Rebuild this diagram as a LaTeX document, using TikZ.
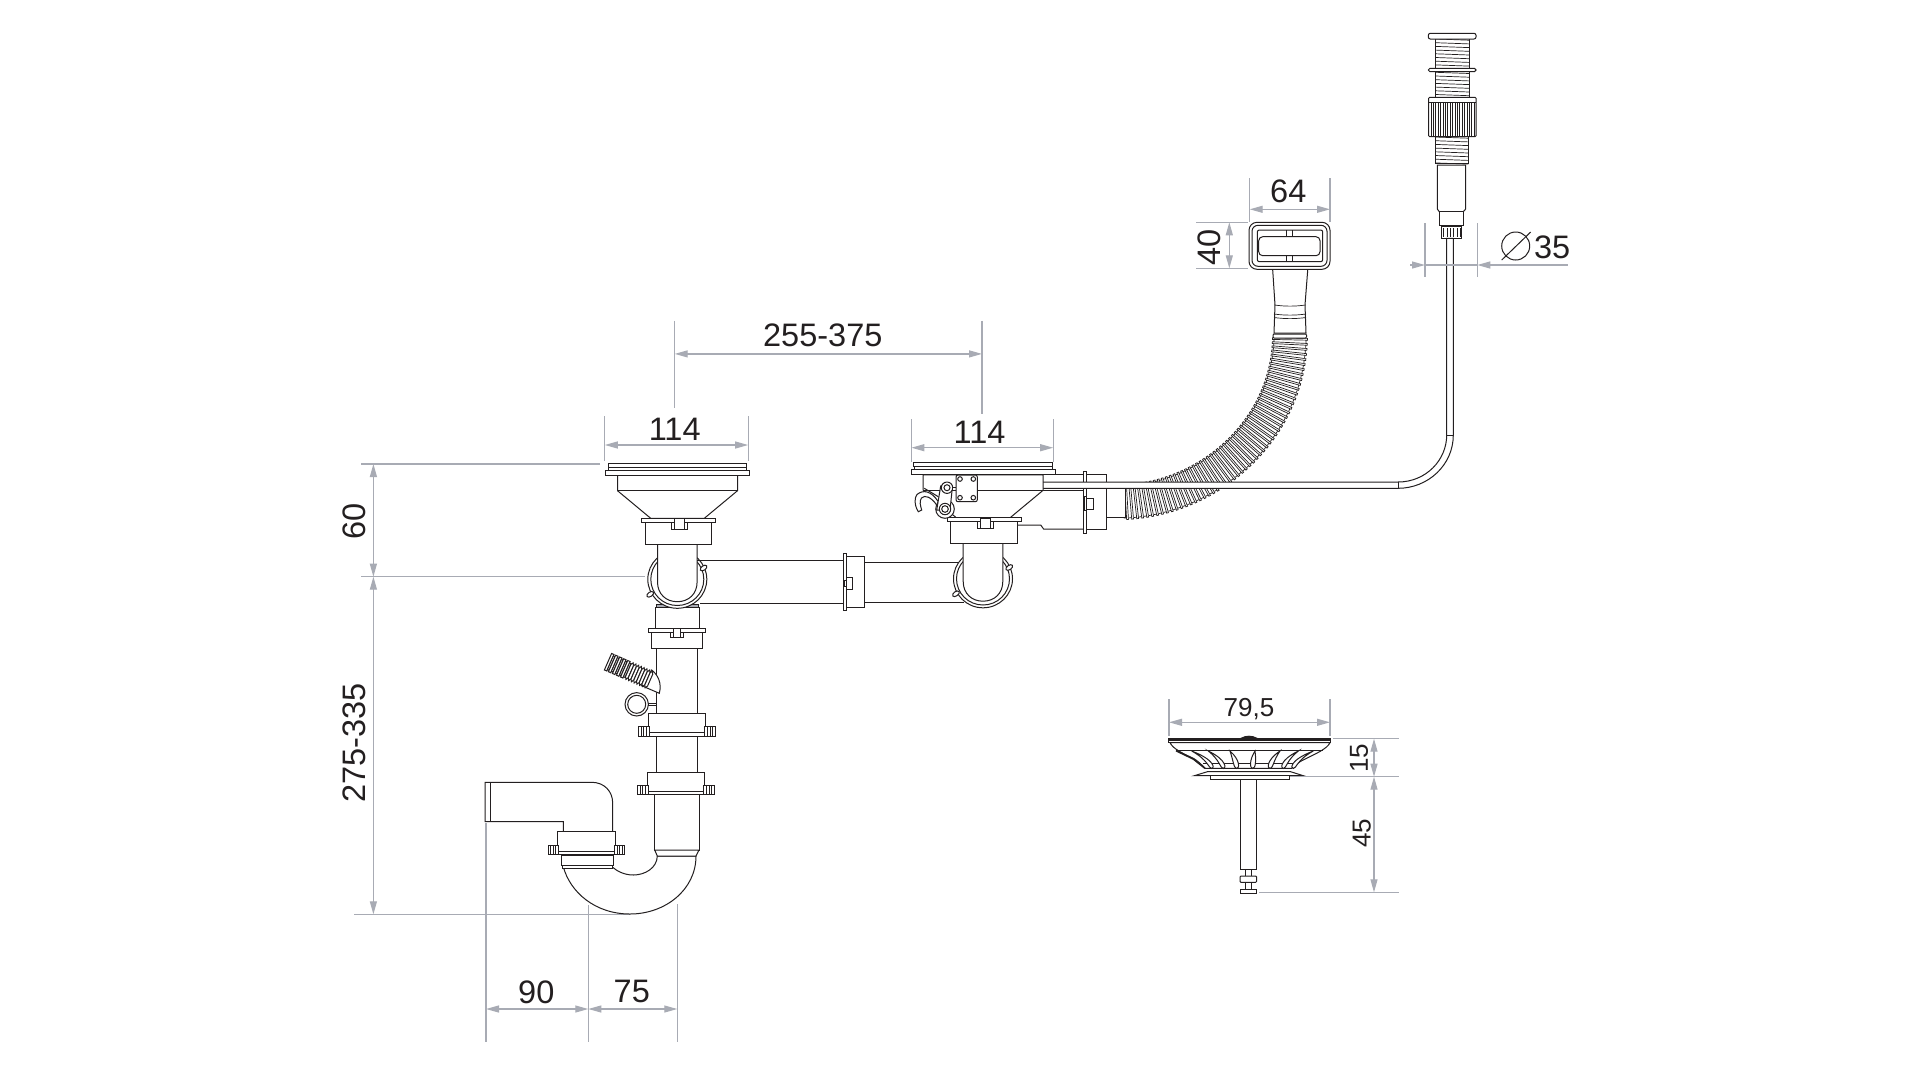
\documentclass[tikz,border=0pt]{standalone}
\usepackage{fontspec}
\setmainfont{Liberation Sans}
\newcommand*{\bigdim}{\fontsize{32.5}{33}\selectfont}
\newcommand*{\smalldim}{\fontsize{26}{26}\selectfont}
\definecolor{dimgrey}{RGB}{168,171,180}
\definecolor{ink}{RGB}{35,31,32}
\usetikzlibrary{arrows.meta}
\usetikzlibrary{decorations.markings}
\tikzstyle{base}=[x=1pt, y=-1pt, inner sep=0pt, outer sep=0pt]
\tikzstyle{part}=[ink, line width=1pt, fill=white]
\tikzstyle{thin}=[ink, line width=0.7pt]
\tikzstyle{ext}=[dimgrey, line width=1.2pt]
\tikzstyle{dim}=[dimgrey, line width=1.2pt, {Triangle[length=13pt,width=7pt]}-{Triangle[length=13pt,width=7pt]}]
\tikzstyle{lead}=[dimgrey, line width=1.2pt, -{Triangle[length=13pt,width=7pt]}]
\tikzstyle{label}=[ink, font=\bigdim]
\tikzstyle{small}=[ink, font=\smalldim]
\tikzstyle{ribbed}=[decoration={markings, mark=between positions 0 and 1 step 4.6pt with {
    \draw [thin] (0,-16) -- (0,-17.5) -- (1.8,-17.5) -- (1.8,-16) -- (4.6,-16);
    \draw [thin] (0,16) -- (0,17.5) -- (1.8,17.5) -- (1.8,16) -- (4.6,16);
    \draw [thin] (0,-16) -- (0,16);
    \draw [thin] (1.8,-16) -- (1.8,16);
}}, postaction={decorate}]
\begin{document}
\begin{tikzpicture}[base]
    \path [use as bounding box, fill=white] (0,0) rectangle (1920,1080);

    % flexible hose
    \draw [white, line width=33pt, ribbed] (1290,338) .. controls (1288,430) and (1210,498) .. (1125.7,502);

    % overflow head
    \draw [part, rounded corners=8pt] (1249,222.3) rectangle (1330,269.3);
    \draw [part, rounded corners=6pt] (1252,225.3) rectangle (1327,266.3);
    \draw [part, rounded corners=2pt] (1257.3,230) rectangle (1322.7,261.7);
    \draw [part, rounded corners=4pt] (1258.7,236.7) rectangle (1320,255.7);
    \draw [thin] (1286.5,230) -- (1286.5,236.7) (1292.5,230) -- (1292.5,236.7);
    \draw [thin] (1286.5,255.7) -- (1286.5,261.7) (1292.5,255.7) -- (1292.5,261.7);
    \draw [part] (1272.7,270) -- (1275,305) -- (1274,333) -- (1306,333) -- (1305,305) -- (1307.7,270);
    \draw [thin] (1274.5,305) .. controls (1285,306.5) and (1295,306.5) .. (1305.5,305);
    \draw [thin] (1274,314) .. controls (1285,315.5) and (1295,315.5) .. (1306,314);
    \draw [thin] (1274,317.5) .. controls (1285,319) and (1295,319) .. (1306,317.5);
    \draw [part, rounded corners=1pt] (1273,334) rectangle (1306.5,338);

    % top button
    \foreach \ty in {39,42.7,...,98} {
        \draw [thin] (1435.7,\ty) -- (1469,\ty+1.2);
    }
    \draw [ink, line width=1pt] (1435.7,39) -- (1435.7,98) (1469,39) -- (1469,98);
    \draw [part, rounded corners=2pt] (1428.3,33.3) rectangle (1476,39);
    \draw [part, rounded corners=1.6pt] (1428.3,68.3) rectangle (1476,71.7);
    \foreach \ty in {137,140.7,...,163} {
        \draw [thin] (1435,\ty) -- (1468.3,\ty+1.2);
    }
    \draw [ink, line width=1pt] (1435,136.7) -- (1435,163.3) -- (1468.3,163.3) -- (1468.3,136.7);
    \draw [part, rounded corners=1pt] (1428.7,97.3) rectangle (1476,136.7);
    \draw [ink, line width=1pt] (1428.7,102.3) -- (1476,102.3);
    \foreach \kx in {1431,1433.4,...,1475} {
        \draw [thin] (\kx,102.3) -- (\kx,136.7);
    }
    \draw [part] (1437.3,165) -- (1437.3,209) -- (1439.3,211.7) -- (1463.3,211.7) -- (1465.7,209) -- (1465.7,165) -- cycle;
    \draw [part] (1439.3,211.7) rectangle (1463.3,225.7);
    \draw [part] (1441,226.7) rectangle (1461.7,238.3);
    \foreach \sx in {1443.7,1447,1450.7,1453.7,1457.3,1460} {
        \draw [thin] (\sx,228) -- (\sx,237);
    }

    % rear housing
    \draw [part] (1106.7,488) rectangle (1125.7,517.7);
    \draw [part] (1041.8,474.3) rectangle (1083.6,490);
    \draw [part] (1017.5,525) -- (1040.7,525) -- (1043.6,529) -- (1083.6,529);
    \draw [part] (1086.8,474.3) rectangle (1106.8,529.3);
    \draw [part] (1083.6,471.7) rectangle (1086.8,533.3);
    \draw [part] (1086.8,498) rectangle (1093.2,509);
    \draw [part] (1084.6,496.7) rectangle (1086.8,510);

    % pull rod
    \draw [part] (977,482) -- (1398,482) .. controls (1426,482) and (1446.7,460) .. (1446.7,435) -- (1446.7,238.3) -- (1453.3,238.3) -- (1453.3,435) .. controls (1453.3,465) and (1428,488.3) .. (1398,488.3) -- (977,488.3);
    \draw [part] (1398,482) -- (1398,488.3);
    \draw [part] (1446.7,435) -- (1453.3,435);

    % section below the left ring
    \draw [part] (655,607.3) rectangle (699.6,629.3);
    \draw [ink, line width=1pt, fill=dimgrey] (656.5,604.5) rectangle (698,607.3);

    % both strainers
    \foreach \sx/\sy in {0/0,305.7/-0.5} {
        \begin{scope}[shift={(\sx,\sy)}]
            \draw [part] (617.5,475.3) -- (617.5,490.7) -- (650.7,518.3) -- (704.3,518.3) -- (737.5,490.7) -- (737.5,475.3) -- cycle;
            \draw [part] (617.5,490.7) -- (737.5,490.7);
            \draw [part] (605.4,470) rectangle (749.6,475.3);
            \draw [part] (608.2,463.3) rectangle (746.8,467);
            \draw [thin] (608.2,467) -- (608.2,470) (746.8,467) -- (746.8,470);
            \draw [part] (677.3,579.3) circle [x radius=29.5, y radius=29];
            \draw [part] (677.3,579.3) circle [x radius=26.5, y radius=26.2];
            \draw [part, rotate around={35:(703.6,568)}] (703.6,568) circle [x radius=3.8, y radius=2.2];
            \draw [part, rotate around={35:(650.2,594.3)}] (650.2,594.3) circle [x radius=3.8, y radius=2.2];
            \draw [part] (657.5,544) -- (657.5,582) .. controls (657.5,594) and (666,601.7) .. (677.3,601.7) .. controls (688.6,601.7) and (697.1,594) .. (697.1,582) -- (697.1,544);
            \draw [part] (645,522) rectangle (711.8,544);
            \draw [part] (641.4,518.3) rectangle (715.7,522);
            \draw [part] (671.4,522) rectangle (687.9,529);
            \draw [part] (674.5,518.7) rectangle (684.8,529);
        \end{scope}
    }

    % cross pipe
    \draw [part] (697.1,560.3) -- (843.2,560.3);
    \draw [part] (700,603.7) -- (843.2,603.7);
    \draw [part] (864.3,562) -- (959.3,562);
    \draw [part] (864.3,602) -- (964,602);
    \draw [part] (846.8,556.3) rectangle (864.3,607.7);
    \draw [part] (843.2,553.3) rectangle (846.8,610.7);
    \draw [part] (846.8,577) rectangle (852.1,589);
    \draw [part] (844.3,580) rectangle (846.8,586);

    % lever on the right strainer
    \draw [part] (924.3,488.3) -- (938.3,496.7);
    \draw [part] (918.3,511.7) .. controls (914,505) and (914.5,497) .. (917,494.5) .. controls (923,489.5) and (931,490.5) .. (938.3,501.7) -- (936.7,505) .. controls (931,497) and (925,494.5) .. (921.5,498) .. controls (919,501) and (920.5,506) .. (921.7,510) -- cycle;
    \draw [part] (945,509) circle (9.3);
    \draw [part] (940.7,486) -- (936.7,510) -- (950,510) -- (952.3,488) -- cycle;
    \draw [part] (947,487.7) circle (5.7);
    \draw [part] (947,487.7) circle (3);
    \draw [part] (945,509) circle (5.7);
    \draw [part] (945,509) circle (3.3);
    \draw [part] (952.5,487) rectangle (956,490);
    \draw [part, rounded corners=2pt] (956,475) rectangle (977.3,501.7);
    \foreach \bx/\by in {960/479,973.3/479,960/497.7,973.3/497.7} {
        \draw [part] (\bx,\by) circle (2.3);
    }

    % tail pipe and clamps
    \draw [part] (656.7,648.7) rectangle (697.3,772.3);
    \draw [part] (651.7,632) rectangle (702.7,648.7);
    \draw [part] (648.3,628.3) rectangle (705.7,632);
    \draw [part] (670.7,632) rectangle (683.3,637);
    \draw [part] (673.5,628) rectangle (680.5,637);
    \draw [part] (654.7,794.7) -- (654.7,850) -- (699,850) -- (699,794.7);

    % side spout
    \draw [part] (651.7,670) .. controls (658,675) and (662,683) .. (659.3,693.3) -- (641.7,685.7) -- cycle;
    \begin{scope}[shift={(608,661.7)}, rotate=-23.6]
        \foreach \rx in {0,4.4,8.8,13.2,17.6} {
            \draw [part] (\rx,-9) rectangle (\rx+2.6,9);
            \draw [part] (\rx+2.6,-7.5) rectangle (\rx+4.4,7.5);
        }
        \foreach \rx in {22,25,...,43} {
            \draw [part] (\rx,-6.5) -- (\rx,6.5) -- (\rx+1.5,9) -- (\rx+3,6.5) -- (\rx+3,-6.5) -- (\rx+1.5,-9) -- cycle;
        }
    \end{scope}
    \draw [part] (636.7,704.3) circle (11.7);
    \draw [part] (636.7,704.3) circle (9);
    \draw [part] (648.3,703.3) rectangle (656.7,705.7);

    % dimension lines behind the trap
    \draw [ext] (630,914.3) -- (353.8,914.3);
    \draw [ext] (588.3,905) -- (588.3,1042);
    \draw [ext] (677.3,904.3) -- (677.3,1042);

    % trap
    \draw [part] (657.3,856) .. controls (657,868) and (645,875) .. (633.3,875) .. controls (624,875) and (617,871) .. (612.7,867.3) -- (563.3,866.7) .. controls (570,892) and (595,914) .. (630,914) .. controls (665,914) and (696,890) .. (696,856) -- cycle;
    \draw [part] (654.7,850) -- (699,850) -- (696,856) -- (657.3,856) -- cycle;
    \draw [part] (561.7,855) rectangle (613.3,865.7);
    \draw [part] (562.5,865.7) rectangle (612.5,868.3);
    \draw [part] (485,782.3) -- (591.7,782.3) .. controls (604,782.3) and (612.7,791) .. (612.7,803.3) -- (612.7,831.7) -- (563.3,831.7) -- (563.3,821.7) -- (485,821.7) -- cycle;
    \draw [part] (490,782.3) -- (490,821.7);

    % clamp nuts with bolts
    \foreach \cx/\cy/\bw/\bh in {648.3/713.3/57.4/19.4,647.3/772.3/57.4/18.7,557.7/831.7/57.6/19.3} {
        \draw [part] (\cx,\cy) rectangle (\cx+\bw,\cy+\bh);
        \draw [part] (\cx-3.2,\cy+\bh) rectangle (\cx+\bw+3.2,\cy+\bh+3.7);
        \draw [part] (\cx-9.5,\cy+\bh-6) rectangle (\cx+0.8,\cy+\bh+3.7);
        \draw [part] (\cx+\bw-0.8,\cy+\bh-6) rectangle (\cx+\bw+9.5,\cy+\bh+3.7);
        \foreach \tx in {-7,-4.5,-2} {
            \draw [thin] (\cx+\tx,\cy+\bh-6) -- (\cx+\tx,\cy+\bh+3.7);
            \draw [thin] (\cx+\bw-\tx,\cy+\bh-6) -- (\cx+\bw-\tx,\cy+\bh+3.7);
        }
    }

    % basket strainer
    \draw [part] (1170,742.7) .. controls (1173,749) and (1184,754) .. (1193.3,758.3) .. controls (1198,761) and (1202,765) .. (1205,768.3) -- (1291.7,768.3) .. controls (1295,765) and (1300,761) .. (1306.7,758.3) .. controls (1315,754) and (1327,749) .. (1330,742.7) -- cycle;
    \draw [ink, line width=1.6pt] (1176,750.7) -- (1193.3,759) -- (1205,768.3);
    \draw [thin] (1177,750) -- (1323,750);
    \draw [thin] (1203,763.3) -- (1297,763.3);
    \foreach \sa/\sb in {1191.7/1211.7,1208.3/1223.3,1230/1236.7,1255/1252.7,1280/1270,1298.3/1283.3,1313.3/1293.3} {
        \draw [part] (\sa,751) .. controls ({\sb-3.5},760) and ({\sb-3},768.5) .. (\sb,768.5) .. controls ({\sb+3},768.5) and ({\sb+3.5},760) .. (\sa,751) -- cycle;
    }
    \draw [part] (1240,778.7) rectangle (1256.7,869.3);
    \draw [part] (1194.3,775.7) -- (1208,771.5) -- (1290,771.5) -- (1303.3,775.7) -- cycle;
    \draw [part] (1210,775.7) rectangle (1289,779);
    \draw [part, ink, fill=ink] (1168.3,738.3) rectangle (1330.5,740);
    \draw [part] (1168.3,740) rectangle (1330.5,742.7);
    \draw [part, fill=ink] (1241,738.3) .. controls (1246,735.5) and (1252,735.5) .. (1257,738.3) -- cycle;
    \draw [part] (1245,869.3) rectangle (1251.7,889);
    \draw [part, rounded corners=1pt] (1240,876) rectangle (1256.7,882.3);
    \draw [part] (1240,889) rectangle (1256.7,893.3);

    % dimension lines
    \draw [ext] (600,464) -- (361,464);
    \draw [ext] (645,576.7) -- (361,576.7);
    \draw [dim] (373.4,464) -- (373.4,576.7);
    \draw [dim] (373.4,576.7) -- (373.4,914.3);
    \node (sixty) [label, rotate=90] at (354,521.6) {60};
    \node (drop) [label, rotate=90] at (354,743) {275-335};

    \draw [ext] (486,823) -- (486,1042);
    \draw [dim] (486,1009) -- (588.3,1009);
    \draw [dim] (588.3,1009) -- (677.3,1009);
    \node (ninety) [label] at (536.3,991.8) {90};
    \node (seventyfive) [label] at (631.8,991.8) {75};

    \draw [ext] (604.8,416) -- (604.8,461) (748.1,416) -- (748.1,461);
    \draw [dim] (604.8,445) -- (748.1,445);
    \node (bowlleft) [label] at (674.7,429.8) {114};
    \draw [ext] (911.4,419) -- (911.4,461.7) (1053.2,419) -- (1053.2,461.7);
    \draw [dim] (911.4,447.7) -- (1053.2,447.7);
    \node (bowlright) [label] at (979.5,432) {114};

    \draw [ext] (674.7,320.8) -- (674.7,408) (982,320.8) -- (982,414);
    \draw [dim] (674.7,353.9) -- (982,353.9);
    \node (spread) [label] at (822.8,335.5) {255-375};

    \draw [ext] (1249.7,178) -- (1249.7,222) (1330,178) -- (1330,222);
    \draw [dim] (1249.7,209.3) -- (1330,209.3);
    \node (headwide) [label] at (1288.3,191.7) {64};
    \draw [ext] (1196,222.3) -- (1248.3,222.3) (1196,268.3) -- (1248.3,268.3);
    \draw [dim] (1229.3,222.3) -- (1229.3,268.3);
    \node (headtall) [label, rotate=90] at (1209,247.5) {40};

    \draw [ext] (1425,223.3) -- (1425,276.7) (1477.3,223.3) -- (1477.3,276.7);
    \draw [lead] (1410,265) -- (1425,265);
    \draw [ext] (1425,265) -- (1477.3,265);
    \draw [lead] (1567.7,265) -- (1477.3,265);
    \draw [ink, line width=1pt] (1515.7,246) circle (14);
    \draw [ink, line width=1pt] (1501.7,260) -- (1530.7,232);
    \node (bore) [label, anchor=west] at (1534,247.5) {35};

    \draw [ext] (1169,699) -- (1169,735.7) (1330,699) -- (1330,735.7);
    \draw [dim] (1169,722.3) -- (1330,722.3);
    \node (basket) [small] at (1249,709) {79,5};
    \draw [ext] (1333.3,738.7) -- (1399.3,738.7) (1290,776.7) -- (1399.3,776.7) (1259.3,892.3) -- (1399.3,892.3);
    \draw [dim] (1374,738.7) -- (1374,776.7);
    \draw [dim] (1374,776.7) -- (1374,892.3);
    \node (depth) [small, rotate=90] at (1359,758.3) {15};
    \node (stem) [small, rotate=90] at (1361.7,833.3) {45};
\end{tikzpicture}
\end{document}
